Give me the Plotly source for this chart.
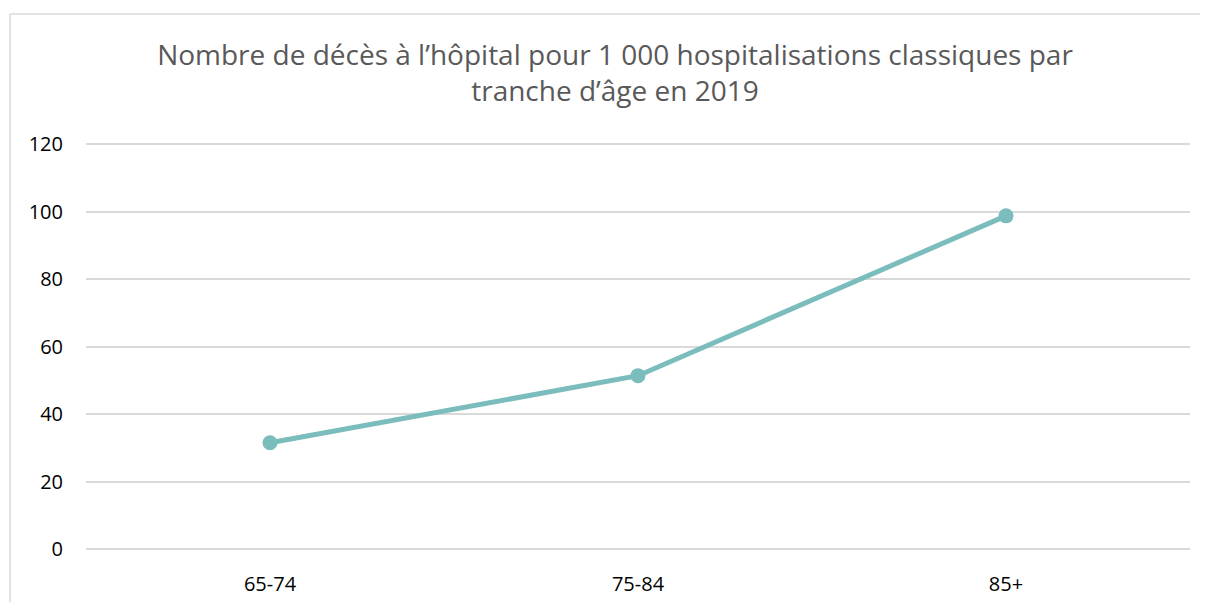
import plotly.graph_objects as go

age_groups = ["65-74", "75-84", "85+"]
deaths_per_1000 = [31.5, 51.4, 98.8]

# page body adds an 8px margin, so the figure is sized to land on the reference grid
W, H = 1200, 601
L, R, T, B = 78, 18, 135, 54
pw, ph = W - L - R, H - T - B

fig = go.Figure()

fig.add_trace(
    go.Scatter(
        x=age_groups,
        y=deaths_per_1000,
        mode="lines+markers",
        line=dict(color="#7ABDBC", width=5),
        marker=dict(color="#7ABDBC", size=15),
        showlegend=False,
    )
)

# outer chart frame: only top and left edges are visible in the cropped reference
x_left = (2 - L) / pw
y_top = 1 + (T - 4) / ph
frame = dict(color="#D9D9D9", width=1.5)
fig.add_shape(type="line", xref="paper", yref="paper",
              x0=x_left, x1=1 + R / pw, y0=y_top, y1=y_top, line=frame, layer="below")
fig.add_shape(type="line", xref="paper", yref="paper",
              x0=x_left, x1=x_left, y0=y_top, y1=-B / ph, line=frame, layer="below")

fig.update_layout(
    width=W,
    height=H,
    margin=dict(l=L, r=R, t=T, b=B),
    paper_bgcolor="white",
    plot_bgcolor="white",
    font=dict(family="Open Sans, Liberation Sans, sans-serif", color="#000000"),
    title=dict(
        text="Nombre de décès à l’hôpital pour 1 000 hospitalisations classiques par<br>tranche d’âge en 2019",
        x=607 / W,
        xanchor="center",
        xref="container",
        y=1 - 57 / H,
        yanchor="top",
        yref="container",
        font=dict(size=28, color="#595959"),
    ),
)

fig.update_xaxes(
    range=[-0.5, 2.5],
    showgrid=False,
    showline=False,
    zeroline=False,
    ticks="",
    ticklabelstandoff=21,
    tickfont=dict(size=20),
)

fig.update_yaxes(
    range=[0, 120.4],
    tickvals=[0, 20, 40, 60, 80, 100, 120],
    showgrid=True,
    gridcolor="#D9D9D9",
    gridwidth=1.5,
    zeroline=True,
    zerolinecolor="#D9D9D9",
    zerolinewidth=1.5,
    showline=False,
    ticks="",
    ticklabelstandoff=22,
    tickfont=dict(size=20),
)

fig.write_html("out.html")
